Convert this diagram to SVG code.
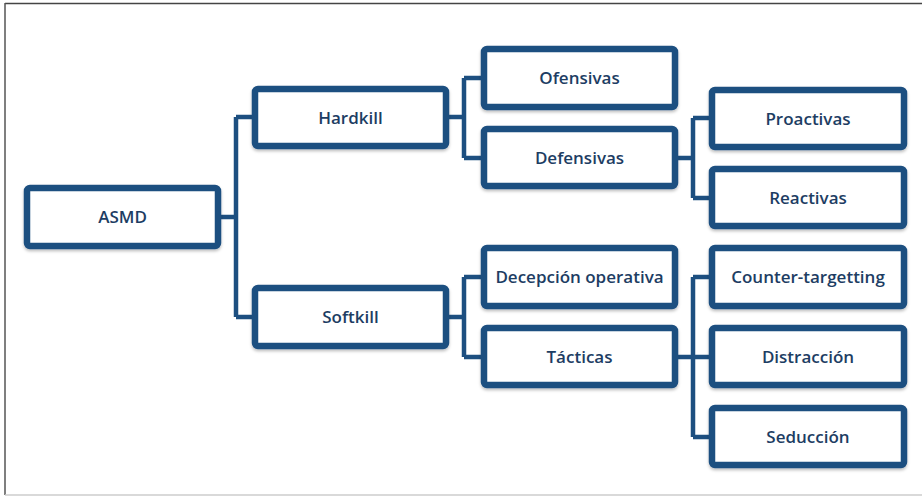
<svg xmlns="http://www.w3.org/2000/svg" width="922" height="496" viewBox="0 0 922 496">
<style>
.box{fill:#fff;stroke:#1d4f80;stroke-width:6.5;filter:url(#sh)}
.lbl{font-family:"Open Sans","Liberation Sans",sans-serif;font-weight:600;font-size:17px;fill:#1d3d63;text-anchor:middle}
.con{fill:none;stroke:#1d4f80;stroke-width:4.5}
</style>
<defs>
<filter id="sh" x="-10%" y="-20%" width="120%" height="150%">
<feDropShadow dx="0" dy="2" stdDeviation="1.5" flood-color="#000" flood-opacity="0.25"/>
</filter>
</defs>
<rect x="0" y="0" width="922" height="496" fill="#fff"/>
<line x1="5" y1="3.5" x2="922" y2="3.5" stroke="#444" stroke-width="1.5"/>
<line x1="5" y1="3" x2="5" y2="495" stroke="#555" stroke-width="1.5"/>
<line x1="5" y1="495" x2="922" y2="495" stroke="#ccc" stroke-width="1.5"/>
<g id="connectors">
<path class="con" d="M221 217H236M236 117V317M236 117H252M236 317H252"/>
<path class="con" d="M449 117H464M464 78V158M464 78H481M464 158H481"/>
<path class="con" d="M678 158H693M693 118V198M693 118H709M693 198H709"/>
<path class="con" d="M449 317H464M464 277V357M464 277H481M464 357H481"/>
<path class="con" d="M678 357H709M693 277V437M693 277H709M693 437H709"/>
</g>
<g id="asmd"><rect class="box" x="27" y="188" width="191" height="58" rx="3"/><text class="lbl" x="122.5" y="223">ASMD</text></g>
<g id="hardkill"><rect class="box" x="255" y="89" width="191" height="57" rx="3"/><text class="lbl" x="350.5" y="123.5">Hardkill</text></g>
<g id="softkill"><rect class="box" x="255" y="288" width="191" height="58" rx="3"/><text class="lbl" x="350.5" y="323">Softkill</text></g>
<g id="ofensivas"><rect class="box" x="484" y="49" width="191" height="58" rx="3"/><text class="lbl" x="579.5" y="84">Ofensivas</text></g>
<g id="defensivas"><rect class="box" x="484" y="129" width="191" height="57" rx="3"/><text class="lbl" x="579.5" y="163.5">Defensivas</text></g>
<g id="proactivas"><rect class="box" x="712" y="90" width="192" height="57" rx="3"/><text class="lbl" x="808" y="124.5">Proactivas</text></g>
<g id="reactivas"><rect class="box" x="712" y="169" width="192" height="57" rx="3"/><text class="lbl" x="808" y="203.5">Reactivas</text></g>
<g id="decepcion"><rect class="box" x="484" y="248" width="191" height="58" rx="3"/><text class="lbl" x="579.5" y="283">Decepción operativa</text></g>
<g id="tacticas"><rect class="box" x="484" y="328" width="191" height="57" rx="3"/><text class="lbl" x="579.5" y="362.5">Tácticas</text></g>
<g id="counter"><rect class="box" x="712" y="248" width="192" height="58" rx="3"/><text class="lbl" x="808" y="283">Counter-targetting</text></g>
<g id="distraccion"><rect class="box" x="712" y="328" width="192" height="57" rx="3"/><text class="lbl" x="808" y="362.5">Distracción</text></g>
<g id="seduccion"><rect class="box" x="712" y="408" width="192" height="57" rx="3"/><text class="lbl" x="808" y="442.5">Seducción</text></g>
</svg>
